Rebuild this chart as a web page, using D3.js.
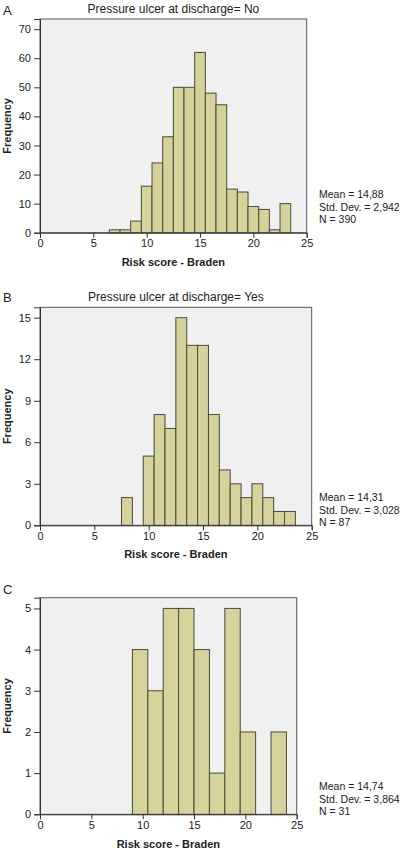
<!DOCTYPE html>
<html>
<head>
<meta charset="utf-8">
<script src="https://cdn.jsdelivr.net/npm/d3@7"></script>
<style>
  html, body { margin: 0; padding: 0; background: #fff; }
  svg { display: block; font-family: "Liberation Sans", Arial, sans-serif; }
</style>
</head>
<body>
<svg id="chart" width="400" height="850"></svg>
<script>
// ---- Data ----
const panelLetters = ["A", "B", "C"];
const panelTitles = ["Pressure ulcer at discharge= No", "Pressure ulcer at discharge= Yes", ""];
const xLabel = "Risk score - Braden";
const yLabel = "Frequency";
const xTicks = [0, 5, 10, 15, 20, 25];

// Panel A: bins of width 1 (start values) and counts
const binStartsA = [6.5, 7.5, 8.5, 9.5, 10.5, 11.5, 12.5, 13.5, 14.5, 15.5, 16.5, 17.5, 18.5, 19.5, 20.5, 21.5, 22.5];
const countsA    = [1,   1,   4,   16,  24,   33,   50,   50,   62,   48,   44,   15,   14,   9,    8,    1,    10];
const yTicksA = [0, 10, 20, 30, 40, 50, 60, 70];
const statsA = ["Mean = 14,88", "Std. Dev. = 2,942", "N = 390"];

// Panel B: bins of width 1
const binStartsB = [7.5, 9.5, 10.5, 11.5, 12.5, 13.5, 14.5, 15.5, 16.5, 17.5, 18.5, 19.5, 20.5, 21.5, 22.5];
const countsB    = [2,   5,   8,    7,    15,   13,   13,   8,    4,    3,    2,    3,    2,    1,    1];
const yTicksB = [0, 3, 6, 9, 12, 15];
const statsB = ["Mean = 14,31", "Std. Dev. = 3,028", "N = 87"];

// Panel C: bins of width 1.5
const binStartsC = [9, 10.5, 12, 13.5, 15, 16.5, 18, 19.5, 22.5];
const countsC    = [4, 3,    5,  5,    4,  1,    5,  2,    2];
const yTicksC = [0, 1, 2, 3, 4, 5];
const statsC = ["Mean = 14,74", "Std. Dev. = 3,864", "N = 31"];

const binWidths = [1, 1, 1.5];
const yMaxes = [73.5, 15.75, 5.26];

// ---- Layout ----
const panels = [
  { left: 40, right: 306.7, top: 19,    bottom: 232.7, starts: binStartsA, counts: countsA, yTicks: yTicksA, stats: statsA, letterY: 13,  titleY: 12.5, xLabelY: 266, statsY: 198 },
  { left: 40, right: 311.7, top: 307.3, bottom: 525.3, starts: binStartsB, counts: countsB, yTicks: yTicksB, stats: statsB, letterY: 300, titleY: 300.5, xLabelY: 558, statsY: 501 },
  { left: 40, right: 296.7, top: 597.7, bottom: 814.3, starts: binStartsC, counts: countsC, yTicks: yTicksC, stats: statsC, letterY: 592, titleY: 592, xLabelY: 848, statsY: 790 }
];

const svg = d3.select("#chart");
const fillColor = "#d6d29b";
const strokeColor = "#4a4a3a";
const bgColor = "#f0f0f0";

panels.forEach((p, i) => {
  const x = d3.scaleLinear().domain([0, 25]).range([p.left, p.right]);
  const y = d3.scaleLinear().domain([0, yMaxes[i]]).range([p.bottom, p.top]);
  const g = svg.append("g");

  // background box
  g.append("rect")
    .attr("x", p.left).attr("y", p.top)
    .attr("width", p.right - p.left).attr("height", p.bottom - p.top)
    .attr("fill", bgColor).attr("stroke", "#555").attr("stroke-width", 1);

  // bars
  const data = p.starts.map((s, k) => ({ x0: s, x1: s + binWidths[i], n: p.counts[k] }));
  g.selectAll("rect.bar").data(data).enter().append("rect")
    .attr("class", "bar")
    .attr("x", d => x(d.x0))
    .attr("y", d => y(d.n))
    .attr("width", d => x(d.x1) - x(d.x0))
    .attr("height", d => y(0) - y(d.n))
    .attr("fill", fillColor)
    .attr("stroke", strokeColor)
    .attr("stroke-width", 1);

  // axes
  const xAxis = d3.axisBottom(x).tickValues(xTicks).tickSize(5).tickPadding(2).tickFormat(d3.format("d"));
  const yAxis = d3.axisLeft(y).tickValues(p.yTicks).tickSize(6).tickPadding(3).tickFormat(d3.format("d"));
  const gx = g.append("g").attr("transform", `translate(0,${p.bottom})`).call(xAxis);
  const gy = g.append("g").attr("transform", `translate(${p.left},0)`).call(yAxis);
  [gx, gy].forEach(a => {
    a.select(".domain").attr("stroke", "#333");
    a.selectAll(".tick line").attr("stroke", "#333");
    a.selectAll(".tick text").attr("fill", "#222").style("font-size", "11px").style("font-family", "'Liberation Sans', Arial, sans-serif");
  });

  // panel letter
  g.append("text").attr("x", 3).attr("y", p.letterY + 2)
    .style("font-size", "13px").attr("fill", "#222").text(panelLetters[i]);

  // title
  if (panelTitles[i]) {
    g.append("text").attr("x", (p.left + p.right) / 2).attr("y", p.titleY)
      .attr("text-anchor", "middle").style("font-size", "12px").attr("fill", "#222")
      .text(panelTitles[i]);
  }

  // x label
  g.append("text").attr("x", (p.left + p.right) / 2).attr("y", p.xLabelY)
    .attr("text-anchor", "middle").style("font-size", "11px").style("font-weight", "bold").attr("fill", "#222")
    .text(xLabel);

  // y label
  g.append("text")
    .attr("transform", `translate(11,${(p.top + p.bottom) / 2}) rotate(-90)`)
    .attr("text-anchor", "middle").style("font-size", "11px").style("font-weight", "bold").attr("fill", "#222")
    .text(yLabel);

  // stats
  p.stats.forEach((s, k) => {
    g.append("text").attr("x", 319).attr("y", p.statsY + k * 12.6)
      .style("font-size", "10.5px").attr("fill", "#222").text(s);
  });
});
</script>
</body>
</html>
